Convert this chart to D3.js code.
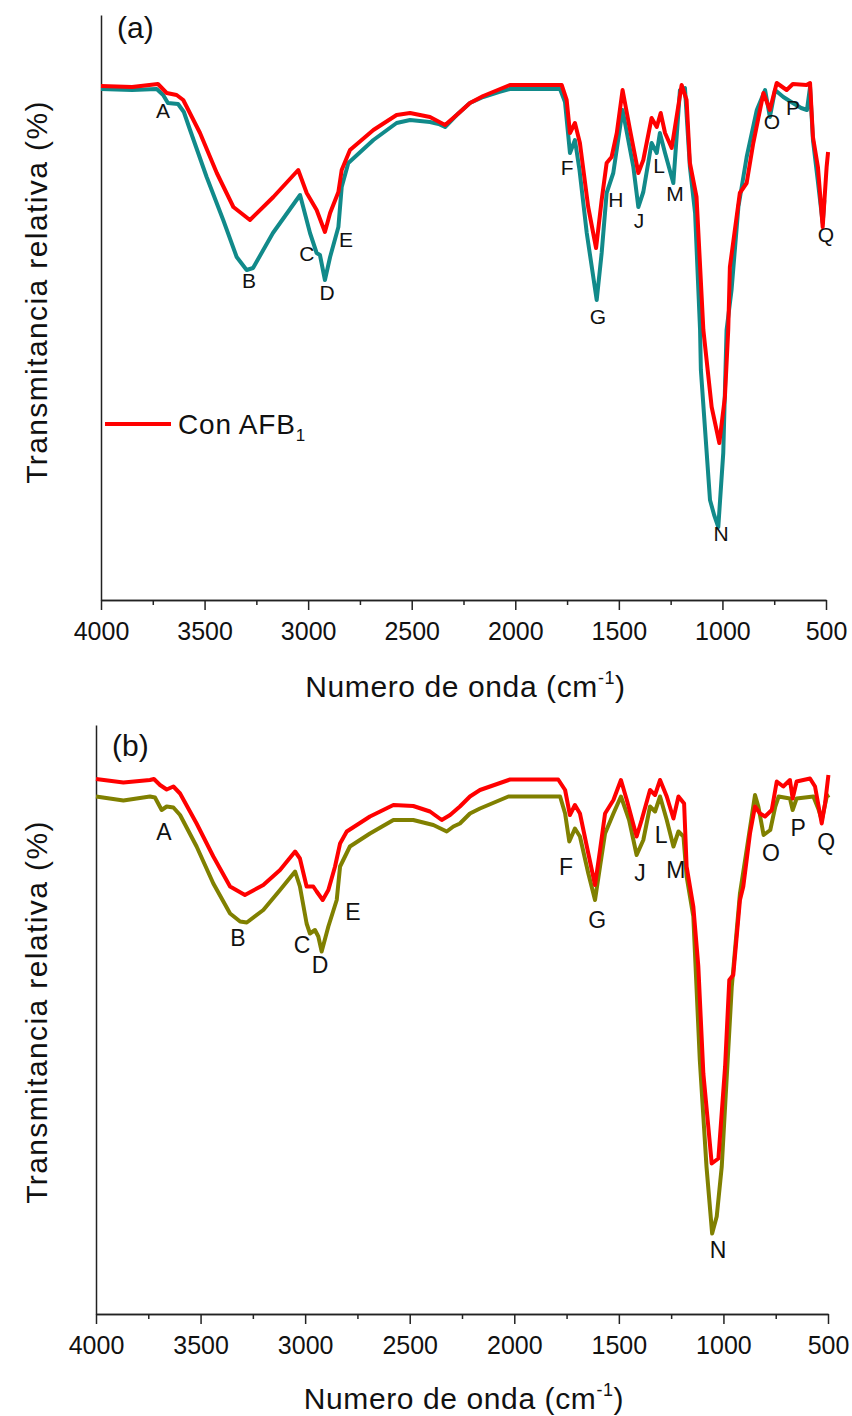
<!DOCTYPE html>
<html>
<head>
<meta charset="utf-8">
<script src="https://cdn.jsdelivr.net/npm/d3@7"></script>
<style>
  body { margin: 0; background: #fff; }
  text { font-family: "Liberation Sans", Arial, sans-serif; fill: #111; }
  .axis path, .axis line { stroke: #222; stroke-width: 1.5; }
  .axis text { font-size: 25px; fill: #111; }
</style>
</head>
<body>
<div id="chart"></div>
<script>
// wavenumber ticks shared by both panels
const MAJOR_TICKS = [4000, 3500, 3000, 2500, 2000, 1500, 1000, 500];
const MINOR_TICKS = [3750, 3250, 2750, 2250, 1750, 1250, 750];
const PEAK_LETTERS_A = ["A","B","C","D","E","F","G","H","J","L","M","N","O","P","Q"];
const PEAK_LETTERS_B = ["A","B","C","D","E","F","G","J","L","M","N","O","P","Q"];

// (a) spectra: [wavenumber cm-1, relative transmittance]
const topTeal = [[4000,102.2],[3850,102],[3731,102.2],[3700,101],[3677,99.4],[3628,99.2],[3600,97.6],[3570,94],
  [3490,84.6],[3410,76],[3345,68.6],[3297,66],[3266,66.4],[3170,73.4],[3039,81],[2991,73.4],[2959,69.4],
  [2943,69],[2919,64],[2894,68.6],[2854,74.6],[2838,82.6],[2806,87.4],[2685,92],[2573,95.4],[2508,96],
  [2412,95.6],[2370,95.2],[2339,94.6],[2283,97],[2219,99.4],[2155,100.6],[2080,101.6],[2026,102.2],
  [1784,102.2],[1760,99.6],[1736,89.4],[1712,92],[1690,86],[1655,73.4],[1607,60],[1583,69.4],[1559,81.4],
  [1527,85.4],[1482,98],[1430,86.6],[1406,78.6],[1382,81.6],[1342,91.4],[1317,89.4],[1302,93.4],[1277,89.4],
  [1237,83.4],[1205,102],[1181,102.4],[1157,86.6],[1132,77.4],[1108,54],[1104,46],[1060,20],[1040,17],
  [1020,14.6],[996,29.4],[980,54],[956,62],[923,78.6],[883,88.6],[834,98],[794,102],[771,96.6],[746,102],
  [706,100.6],[660,99.4],[620,98.4],[592,98],[577,102.6],[563,92],[540,84],[516,75.4],[508,80]];
const topRed = [[4000,102.8],[3850,102.6],[3725,103.2],[3683,101.4],[3635,101],[3603,100],[3522,93.4],[3441,85.4],
  [3361,78.6],[3281,76],[3168,80.6],[3048,86],[3007,81.4],[2959,78],[2919,73.6],[2894,77.4],[2854,81.6],
  [2838,86],[2798,90],[2685,94],[2573,97],[2508,97.4],[2412,96.6],[2339,95],[2283,97],[2219,99.4],
  [2155,100.8],[2026,103],[1776,103],[1752,100],[1736,93.4],[1712,95.4],[1688,91.4],[1648,78.6],[1610,70.4],
  [1583,80],[1559,87.4],[1535,88.6],[1510,93.4],[1482,102],[1446,94],[1406,85.4],[1382,88],[1342,96.4],
  [1317,94.6],[1298,97.4],[1277,93.4],[1245,90.4],[1197,103],[1173,100],[1157,87.4],[1125,80.6],[1092,54],
  [1052,38.6],[1015,31.4],[988,40.6],[972,54],[964,66.6],[916,81.4],[883,83.4],[851,91.4],[802,101.4],
  [771,98],[738,103.4],[690,102],[660,103.2],[594,103],[577,103.4],[563,92.6],[539,86.6],[516,74.6],
  [497,86.6],[490,89.6]];
const peakPosA = [[3701,98],[3285,64],[3006,69.4],[2909,61.6],[2817,72.2],[1750,86.6],[1601,56.8],[1514,80.2],
  [1403,76],[1306,87],[1229,81.4],[1007,13.4],[761,95.8],[659,98.6],[500,73.2]];

// (b) spectra
const botOlive = [[4000,103.5],[3869,102.7],[3742,103.5],[3718,103.3],[3686,100.8],[3662,101.5],[3630,101.3],
  [3598,99.8],[3519,93.5],[3439,86.1],[3359,80.1],[3311,78.5],[3279,78.3],[3200,80.8],[3120,84.8],[3048,88.5],
  [3025,85.5],[2993,78.1],[2977,76.1],[2953,76.8],[2937,75.5],[2921,72.5],[2889,77.5],[2849,82.8],[2833,89.5],
  [2786,93.5],[2690,96.1],[2578,98.8],[2483,98.8],[2387,97.8],[2323,96.5],[2291,97.5],[2260,98.1],[2212,100.1],
  [2164,101.1],[2028,103.5],[1781,103.5],[1757,100.1],[1737,94.5],[1710,97.1],[1686,95.5],[1646,88.1],
  [1614,82.8],[1590,89.5],[1566,96.1],[1526,100.1],[1490,103.5],[1451,98.8],[1415,91.8],[1383,94.8],
  [1351,101.5],[1327,100.5],[1303,103.5],[1271,98.8],[1239,93.5],[1215,96.5],[1191,95.5],[1176,87.5],
  [1144,79.5],[1113,50.8],[1081,29.5],[1054,16.1],[1032,19.5],[1008,29.5],[960,65.5],[921,84.1],[889,92.8],
  [849,103.8],[833,101.5],[808,95.8],[776,96.8],[752,101.5],[736,103.5],[682,103.1],[669,100.8],[650,103.1],
  [570,103.5],[546,101],[530,98.8],[506,103.5],[494,103.8]];
const botRed = [[4000,107],[3869,106.3],[3742,106.8],[3723,107],[3694,105.8],[3662,104.9],[3630,105.5],[3598,104.1],
  [3519,98.1],[3439,91.5],[3359,85.5],[3288,83.8],[3200,85.8],[3120,88.8],[3048,92.5],[3025,91.1],[2993,85.5],
  [2961,85.5],[2945,84.5],[2916,82.8],[2889,84.8],[2857,89.5],[2833,94.1],[2801,96.5],[2690,99.5],[2578,101.8],
  [2483,101.6],[2403,100.5],[2347,98.8],[2307,99.8],[2260,101.5],[2212,103.5],[2164,104.8],[2020,106.9],
  [1790,106.9],[1757,104.8],[1734,99.8],[1710,101.8],[1686,100.1],[1646,92.1],[1614,85.8],[1590,92.8],
  [1566,100.1],[1526,102.8],[1490,106.8],[1462,102.8],[1415,95.5],[1391,98.8],[1351,104.8],[1327,103.8],
  [1303,106.8],[1271,103.5],[1239,99.1],[1215,103.5],[1188,102.1],[1176,89.5],[1144,81.5],[1120,69.5],
  [1096,48.1],[1056,30.1],[1024,31.1],[992,49.5],[972,66.8],[953,67.8],[921,82.8],[905,85.5],[873,96.1],
  [849,101.5],[825,100.1],[801,99.5],[769,100.8],[745,106.5],[714,105.5],[682,106.8],[669,103.1],[650,106.5],
  [586,107.1],[562,105.5],[530,98.1],[514,102.1],[498,107.8]];
const peakPosB = [[3675,96.4],[3321,75.2],[3015,73.8],[2929,69.8],[2771,80.4],[1753,89.4],[1604,78.8],[1399,88.2],
  [1298,95.8],[1227,88.8],[1026,12.8],[773,92.2],[643,97.2],[509,94.4]];

const WIDTH = 852, HEIGHT = 1416;
const RED = "#ff0000", TEAL = "#118a8a", OLIVE = "#808000";

const SVG = d3.select("#chart").append("svg")
  .attr("width", WIDTH)
  .attr("height", HEIGHT);

// PANEL
function drawPanel(opt) {
  const x = d3.scaleLinear().domain([4000, 500]).range([opt.left, opt.right]);
  const y = d3.scaleLinear().domain([0, opt.yMax]).range([opt.bottom, opt.top]);
  const g = SVG.append("g");

  // minor ticks first, major axis on top
  g.append("g").attr("class", "axis")
    .attr("transform", `translate(0,${opt.bottom})`)
    .call(d3.axisBottom(x).tickValues(MINOR_TICKS).tickSize(5).tickSizeOuter(0).tickFormat(""));
  g.append("g").attr("class", "axis")
    .attr("transform", `translate(0,${opt.bottom})`)
    .call(d3.axisBottom(x).tickValues(MAJOR_TICKS).tickSize(10).tickPadding(12).tickSizeOuter(0).tickFormat(d3.format("d")));
  g.append("g").attr("class", "axis")
    .attr("transform", `translate(${opt.left},0)`)
    .call(d3.axisLeft(y).tickValues([]).tickSizeOuter(0));

  const line = d3.line().x(d => x(d[0])).y(d => y(d[1]));
  opt.series.forEach(s => {
    g.append("path")
      .datum(s.data)
      .attr("fill", "none")
      .attr("stroke", s.color)
      .attr("stroke-width", 4)
      .attr("stroke-linejoin", "round")
      .attr("d", line);
  });

  g.selectAll(".peak")
    .data(opt.letters)
    .enter().append("text")
    .attr("class", "peak")
    .attr("x", (d, i) => x(opt.peaks[i][0]))
    .attr("y", (d, i) => y(opt.peaks[i][1]))
    .attr("text-anchor", "middle")
    .attr("dominant-baseline", "central")
    .style("font-size", opt.letterSize + "px")
    .text(d => d);

  g.append("text")
    .attr("x", opt.left + 16)
    .attr("y", opt.top + opt.tagDy)
    .style("font-size", "30px")
    .text(opt.tag);

  // axis titles
  const xt = g.append("text")
    .attr("x", (opt.left + opt.right) / 2 + 2)
    .attr("y", opt.bottom + opt.titleDy)
    .attr("text-anchor", "middle")
    .style("font-size", "30px")
    .style("letter-spacing", "0.6px");
  xt.append("tspan").text("Numero de onda (cm");
  xt.append("tspan").attr("dy", -13).style("font-size", "18px").text("-1");
  xt.append("tspan").attr("dy", 13).text(")");

  g.append("text")
    .attr("transform", `translate(47,${opt.yTitleC}) rotate(-90)`)
    .attr("text-anchor", "middle")
    .style("font-size", "30px")
    .style("letter-spacing", "1.4px")
    .text("Transmitancia relativa (%)");

  return {x, y, g};
}

// (a)
const TOP = drawPanel({
  left: 101, right: 826, top: 15, bottom: 600, yMax: 117,
  series: [{data: topTeal, color: TEAL}, {data: topRed, color: RED}],
  letters: PEAK_LETTERS_A, peaks: peakPosA, letterSize: 21,
  tag: "(a)", tagDy: 23, titleDy: 97, yTitleC: 292
});

// legend
TOP.g.append("line")
  .attr("x1", 105).attr("x2", 171)
  .attr("y1", 424).attr("y2", 424)
  .attr("stroke", RED).attr("stroke-width", 4);
const LEGEND_TEXT = TOP.g.append("text")
  .attr("x", 178).attr("y", 434)
  .style("font-size", "28px")
  .style("letter-spacing", "0.8px");
LEGEND_TEXT.append("tspan").text("Con AFB");
LEGEND_TEXT.append("tspan").attr("dy", 7).style("font-size", "17px").text("1");

// (b)
drawPanel({
  left: 96, right: 828, top: 725, bottom: 1314, yMax: 117.8,
  series: [{data: botOlive, color: OLIVE}, {data: botRed, color: RED}],
  letters: PEAK_LETTERS_B, peaks: peakPosB, letterSize: 23,
  tag: "(b)", tagDy: 31, titleDy: 95, yTitleC: 1012
});
</script>
</body>
</html>
